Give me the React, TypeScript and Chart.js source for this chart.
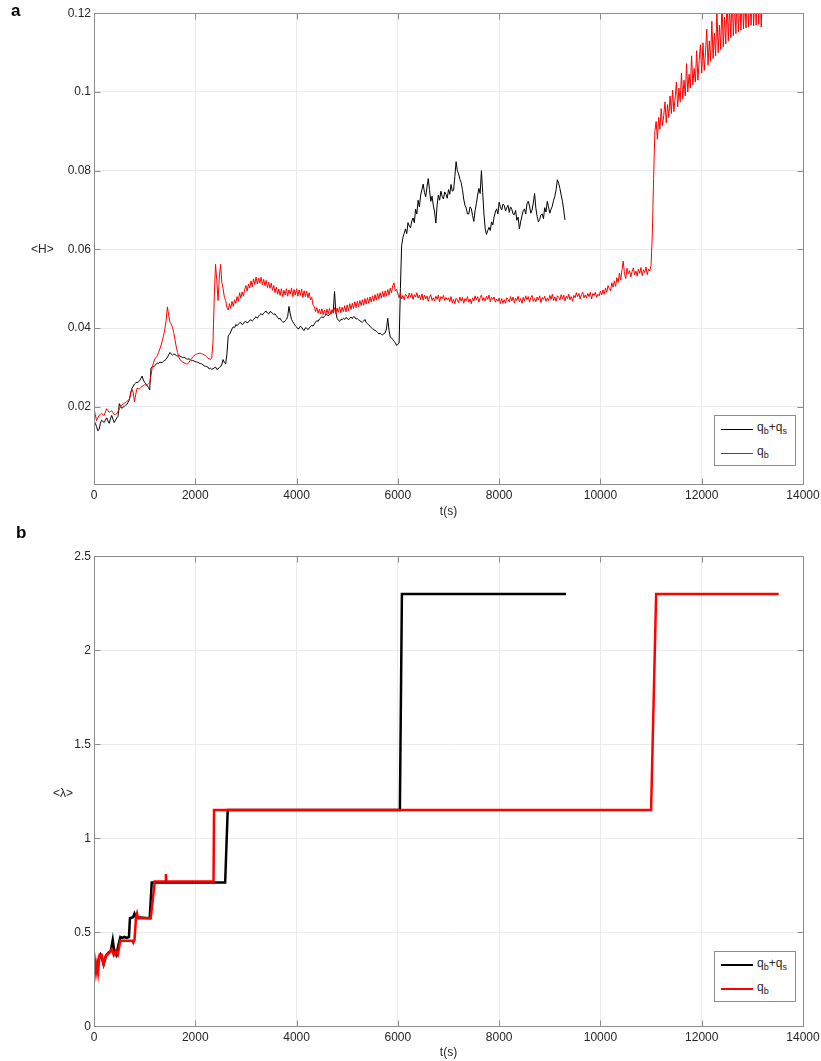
import React, { useEffect, useRef } from 'react';
import { Chart, registerables } from 'chart.js';

Chart.register(...registerables);

// ---------- data ----------
// sampling interval of the <H> records (seconds)
const H_SAMPLE_STEP_S = 25;

// <H> for q_b+q_s, one value every 25 s from t = 0 to 9300 s (one row = 500 s)
const H_TOTAL = [
  0.0165, 0.0158, 0.0150, 0.0139, 0.0142, 0.0158, 0.0166, 0.0163, 0.0160, 0.0166, 0.0172, 0.0164, 0.0158, 0.0169, 0.0178, 0.0168, 0.0160, 0.0166, 0.0172, 0.0176,
  0.0208, 0.0201, 0.0196, 0.0199, 0.0201, 0.0204, 0.0206, 0.0212, 0.0218, 0.0236, 0.0247, 0.0252, 0.0258, 0.0261, 0.0262, 0.0263, 0.0266, 0.0272, 0.0278, 0.0268,
  0.0262, 0.0258, 0.0254, 0.0249, 0.0243, 0.0298, 0.0302, 0.0301, 0.0305, 0.0308, 0.0311, 0.0310, 0.0314, 0.0312, 0.0313, 0.0316, 0.0318, 0.0321, 0.0326, 0.0332,
  0.0338, 0.0334, 0.0331, 0.0334, 0.0333, 0.0330, 0.0329, 0.0331, 0.0328, 0.0327, 0.0325, 0.0326, 0.0324, 0.0322, 0.0321, 0.0322, 0.0320, 0.0317, 0.0318, 0.0316,
  0.0315, 0.0314, 0.0313, 0.0311, 0.0310, 0.0309, 0.0307, 0.0304, 0.0303, 0.0302, 0.0301, 0.0296, 0.0298, 0.0295, 0.0297, 0.0299, 0.0301, 0.0295, 0.0296, 0.0300,
  0.0302, 0.0308, 0.0320, 0.0312, 0.0309, 0.0335, 0.0380, 0.0384, 0.0390, 0.0398, 0.0403, 0.0401, 0.0409, 0.0406, 0.0410, 0.0413, 0.0414, 0.0409, 0.0411, 0.0416,
  0.0417, 0.0413, 0.0415, 0.0420, 0.0421, 0.0418, 0.0421, 0.0426, 0.0429, 0.0425, 0.0430, 0.0434, 0.0437, 0.0433, 0.0438, 0.0441, 0.0443, 0.0438, 0.0436, 0.0442,
  0.0441, 0.0437, 0.0435, 0.0436, 0.0432, 0.0427, 0.0423, 0.0425, 0.0419, 0.0416, 0.0415, 0.0419, 0.0422, 0.0430, 0.0455, 0.0436, 0.0422, 0.0416, 0.0411, 0.0406,
  0.0403, 0.0398, 0.0399, 0.0405, 0.0402, 0.0396, 0.0394, 0.0401, 0.0400, 0.0396, 0.0400, 0.0404, 0.0407, 0.0405, 0.0410, 0.0415, 0.0419, 0.0417, 0.0423, 0.0426,
  0.0429, 0.0426, 0.0430, 0.0433, 0.0435, 0.0431, 0.0435, 0.0437, 0.0439, 0.0445, 0.0493, 0.0440, 0.0425, 0.0420, 0.0417, 0.0422, 0.0421, 0.0425, 0.0422, 0.0427,
  0.0425, 0.0421, 0.0425, 0.0428, 0.0424, 0.0429, 0.0428, 0.0423, 0.0424, 0.0421, 0.0419, 0.0416, 0.0415, 0.0418, 0.0422, 0.0414, 0.0411, 0.0408, 0.0405, 0.0401,
  0.0398, 0.0396, 0.0394, 0.0392, 0.0389, 0.0385, 0.0387, 0.0384, 0.0383, 0.0386, 0.0388, 0.0398, 0.0425, 0.0395, 0.0377, 0.0375, 0.0371, 0.0366, 0.0363, 0.0356,
  0.0359, 0.0362, 0.0500, 0.0610, 0.0630, 0.0641, 0.0652, 0.0640, 0.0668, 0.0659, 0.0655, 0.0672, 0.0680, 0.0668, 0.0702, 0.0690, 0.0725, 0.0708, 0.0738, 0.0752,
  0.0766, 0.0745, 0.0734, 0.0758, 0.0780, 0.0752, 0.0722, 0.0735, 0.0712, 0.0695, 0.0667, 0.0712, 0.0738, 0.0725, 0.0748, 0.0735, 0.0728, 0.0746, 0.0740, 0.0730,
  0.0752, 0.0740, 0.0765, 0.0748, 0.0750, 0.0785, 0.0823, 0.0800, 0.0792, 0.0778, 0.0770, 0.0752, 0.0728, 0.0712, 0.0705, 0.0690, 0.0690, 0.0708, 0.0704, 0.0686,
  0.0671, 0.0698, 0.0716, 0.0738, 0.0755, 0.0742, 0.0800, 0.0745, 0.0690, 0.0652, 0.0638, 0.0648, 0.0656, 0.0648, 0.0670, 0.0662, 0.0682, 0.0695, 0.0703, 0.0690,
  0.0720, 0.0708, 0.0700, 0.0715, 0.0712, 0.0698, 0.0706, 0.0712, 0.0694, 0.0708, 0.0702, 0.0690, 0.0688, 0.0699, 0.0674, 0.0682, 0.0652, 0.0670, 0.0685, 0.0698,
  0.0703, 0.0690, 0.0716, 0.0722, 0.0710, 0.0692, 0.0700, 0.0718, 0.0742, 0.0705, 0.0684, 0.0670, 0.0676, 0.0688, 0.0690, 0.0678, 0.0706, 0.0695, 0.0722, 0.0708,
  0.0692, 0.0702, 0.0710, 0.0725, 0.0735, 0.0752, 0.0777, 0.0768, 0.0755, 0.0738, 0.0722, 0.0700, 0.0675,
];

// <H> for q_b, one value every 25 s from t = 0 to 13200 s (one row = 500 s)
const H_BED = [
  0.0196, 0.0180, 0.0165, 0.0172, 0.0178, 0.0181, 0.0183, 0.0180, 0.0178, 0.0187, 0.0195, 0.0190, 0.0186, 0.0188, 0.0190, 0.0185, 0.0180, 0.0181, 0.0183, 0.0188,
  0.0195, 0.0200, 0.0205, 0.0207, 0.0209, 0.0211, 0.0214, 0.0217, 0.0220, 0.0233, 0.0245, 0.0235, 0.0213, 0.0232, 0.0247, 0.0246, 0.0246, 0.0249, 0.0252, 0.0254,
  0.0256, 0.0255, 0.0255, 0.0258, 0.0262, 0.0280, 0.0300, 0.0312, 0.0322, 0.0325, 0.0330, 0.0338, 0.0347, 0.0357, 0.0368, 0.0382, 0.0398, 0.0420, 0.0454, 0.0432,
  0.0415, 0.0410, 0.0402, 0.0388, 0.0370, 0.0352, 0.0338, 0.0326, 0.0320, 0.0316, 0.0314, 0.0312, 0.0311, 0.0309, 0.0309, 0.0313, 0.0318, 0.0322, 0.0327, 0.0330,
  0.0332, 0.0334, 0.0335, 0.0336, 0.0336, 0.0335, 0.0334, 0.0332, 0.0330, 0.0327, 0.0324, 0.0322, 0.0320, 0.0325, 0.0365, 0.0480, 0.0562, 0.0520, 0.0470, 0.0530,
  0.0562, 0.0515, 0.0500, 0.0478, 0.0470, 0.0452, 0.0446, 0.0462, 0.0450, 0.0468, 0.0455, 0.0472, 0.0463, 0.0480, 0.0468, 0.0490, 0.0476, 0.0492, 0.0481, 0.0498,
  0.0508, 0.0494, 0.0512, 0.0502, 0.0520, 0.0505, 0.0525, 0.0511, 0.0530, 0.0512, 0.0527, 0.0514, 0.0529, 0.0510, 0.0524, 0.0508, 0.0521, 0.0503, 0.0517, 0.0501,
  0.0514, 0.0496, 0.0508, 0.0490, 0.0504, 0.0486, 0.0499, 0.0483, 0.0500, 0.0480, 0.0496, 0.0484, 0.0500, 0.0481, 0.0497, 0.0486, 0.0502, 0.0480, 0.0498, 0.0484,
  0.0500, 0.0481, 0.0497, 0.0483, 0.0499, 0.0478, 0.0495, 0.0480, 0.0494, 0.0477, 0.0490, 0.0472, 0.0478, 0.0458, 0.0455, 0.0442, 0.0452, 0.0438, 0.0448, 0.0436,
  0.0449, 0.0434, 0.0446, 0.0433, 0.0448, 0.0436, 0.0450, 0.0435, 0.0447, 0.0438, 0.0452, 0.0437, 0.0451, 0.0440, 0.0454, 0.0439, 0.0453, 0.0442, 0.0457, 0.0441,
  0.0459, 0.0444, 0.0462, 0.0447, 0.0463, 0.0450, 0.0467, 0.0452, 0.0468, 0.0454, 0.0470, 0.0457, 0.0472, 0.0458, 0.0475, 0.0461, 0.0477, 0.0463, 0.0479, 0.0466,
  0.0482, 0.0468, 0.0485, 0.0471, 0.0488, 0.0474, 0.0490, 0.0476, 0.0493, 0.0479, 0.0495, 0.0481, 0.0498, 0.0484, 0.0502, 0.0490, 0.0508, 0.0515, 0.0494, 0.0499,
  0.0487, 0.0477, 0.0490, 0.0474, 0.0483, 0.0472, 0.0486, 0.0482, 0.0475, 0.0489, 0.0478, 0.0488, 0.0473, 0.0485, 0.0479, 0.0490, 0.0476, 0.0484, 0.0472, 0.0487,
  0.0471, 0.0484, 0.0474, 0.0482, 0.0468, 0.0479, 0.0485, 0.0470, 0.0477, 0.0469, 0.0481, 0.0473, 0.0484, 0.0467, 0.0480, 0.0475, 0.0483, 0.0470, 0.0478, 0.0472,
  0.0477, 0.0467, 0.0480, 0.0464, 0.0473, 0.0462, 0.0476, 0.0472, 0.0465, 0.0479, 0.0468, 0.0478, 0.0463, 0.0475, 0.0469, 0.0480, 0.0466, 0.0474, 0.0462, 0.0477,
  0.0469, 0.0482, 0.0472, 0.0480, 0.0466, 0.0477, 0.0484, 0.0470, 0.0477, 0.0469, 0.0481, 0.0473, 0.0484, 0.0467, 0.0478, 0.0473, 0.0479, 0.0466, 0.0474, 0.0468,
  0.0476, 0.0462, 0.0475, 0.0463, 0.0472, 0.0463, 0.0477, 0.0473, 0.0466, 0.0480, 0.0469, 0.0479, 0.0464, 0.0476, 0.0470, 0.0481, 0.0467, 0.0475, 0.0463, 0.0478,
  0.0469, 0.0482, 0.0472, 0.0480, 0.0466, 0.0477, 0.0483, 0.0468, 0.0475, 0.0467, 0.0479, 0.0471, 0.0482, 0.0465, 0.0478, 0.0473, 0.0481, 0.0468, 0.0476, 0.0470,
  0.0483, 0.0473, 0.0486, 0.0470, 0.0479, 0.0468, 0.0482, 0.0478, 0.0471, 0.0485, 0.0474, 0.0484, 0.0469, 0.0481, 0.0475, 0.0486, 0.0472, 0.0480, 0.0468, 0.0483,
  0.0477, 0.0490, 0.0480, 0.0488, 0.0474, 0.0485, 0.0491, 0.0477, 0.0484, 0.0476, 0.0488, 0.0480, 0.0491, 0.0474, 0.0488, 0.0483, 0.0491, 0.0478, 0.0486, 0.0482,
  0.0494, 0.0484, 0.0497, 0.0486, 0.0502, 0.0491, 0.0508, 0.0500, 0.0495, 0.0515, 0.0504, 0.0520, 0.0506, 0.0528, 0.0516, 0.0540, 0.0522, 0.0548, 0.0570, 0.0538,
  0.0526, 0.0552, 0.0538, 0.0546, 0.0530, 0.0544, 0.0553, 0.0535, 0.0545, 0.0532, 0.0550, 0.0539, 0.0554, 0.0533, 0.0548, 0.0541, 0.0555, 0.0536, 0.0550, 0.0545,
  0.0560, 0.0640, 0.0780, 0.0900, 0.0925, 0.0880, 0.0935, 0.0905, 0.0958, 0.0915, 0.0940, 0.0975, 0.0922, 0.0968, 0.0935, 0.0990, 0.0945, 0.1005, 0.0950, 0.0985,
  0.1025, 0.0962, 0.1010, 0.0975, 0.1048, 0.0982, 0.1030, 0.0990, 0.1072, 0.1000, 0.1045, 0.1010, 0.1092, 0.1018, 0.1060, 0.1025, 0.1105, 0.1030, 0.1080, 0.1120,
  0.1048, 0.1125, 0.1055, 0.1100, 0.1160, 0.1068, 0.1130, 0.1078, 0.1180, 0.1085, 0.1150, 0.1092, 0.1205, 0.1100, 0.1170, 0.1108, 0.1230, 0.1115, 0.1190, 0.1122,
  0.1240, 0.1130, 0.1215, 0.1138, 0.1250, 0.1143, 0.1225, 0.1148, 0.1260, 0.1152, 0.1235, 0.1157, 0.1265, 0.1160, 0.1240, 0.1163, 0.1270, 0.1166, 0.1245, 0.1170,
  0.1275, 0.1168, 0.1250, 0.1170, 0.1280, 0.1172, 0.1255, 0.1165, 0.1260,
];

// <lambda> step records: times (s) and values
const LAMBDA_TOTAL_T = [
  0, 30, 60, 100, 130, 160, 190, 230, 280, 330, 370, 400, 440, 480, 520, 560, 600, 640,
  690, 710, 770, 800, 830, 1100, 1140, 2590, 2640, 6040, 6080, 9320,
];
const LAMBDA_TOTAL_V = [
  0.33, 0.30, 0.33, 0.36, 0.38, 0.36, 0.33, 0.37, 0.39, 0.40, 0.46, 0.40, 0.38, 0.43, 0.475, 0.47, 0.475, 0.47,
  0.475, 0.575, 0.58, 0.60, 0.58, 0.575, 0.765, 0.765, 1.15, 1.15, 2.30, 2.30,
];
const LAMBDA_BED_T = [
  0, 20, 40, 60, 80, 110, 150, 190, 240, 300, 350, 390, 430, 470, 520, 760, 775, 800,
  830, 850, 870, 1120, 1200, 1410, 1420, 1430, 2360, 2370, 11000, 11100, 13520,
];
const LAMBDA_BED_V = [
  0.30, 0.34, 0.29, 0.33, 0.29, 0.38, 0.38, 0.33, 0.38, 0.39, 0.41, 0.38, 0.40, 0.38, 0.455, 0.455, 0.445, 0.46,
  0.58, 0.60, 0.575, 0.575, 0.77, 0.77, 0.81, 0.77, 0.77, 1.15, 1.15, 2.30, 2.30,
];

const T_TICKS = [0, 2000, 4000, 6000, 8000, 10000, 12000, 14000];
const T_TICK_LABELS = ['0', '2000', '4000', '6000', '8000', '10000', '12000', '14000'];
const H_TICKS = [0.02, 0.04, 0.06, 0.08, 0.1, 0.12];
const H_TICK_LABELS = ['0.02', '0.04', '0.06', '0.08', '0.1', '0.12'];
const L_TICKS = [0, 0.5, 1, 1.5, 2, 2.5];
const L_TICK_LABELS = ['0', '0.5', '1', '1.5', '2', '2.5'];

const SERIES_TOTAL = 'q_b+q_s';
const SERIES_BED = 'q_b';

// ---------- styling ----------
const FONT = '"Liberation Sans", Arial, sans-serif';
const TEXT = '#262626';
const FRAME = '#8c8c8c';
const GRID = '#ebebeb';
const RED = '#ff0000';
const BLACK = '#000000';

const framePlugin = {
  id: 'matlabFrame',
  afterDatasetsDraw(chart: any) {
    const { ctx, chartArea: a, scales } = chart;
    const l = Math.round(a.left) + 0.5;
    const r = Math.round(a.right) + 0.5;
    const t = Math.round(a.top) + 0.5;
    const b = Math.round(a.bottom) + 0.5;
    ctx.save();
    ctx.strokeStyle = FRAME;
    ctx.lineWidth = 1;
    ctx.beginPath();
    ctx.rect(l, t, r - l, b - t);
    const len = 6;
    scales.x.ticks.forEach((tk: any) => {
      const x = Math.round(scales.x.getPixelForValue(tk.value)) + 0.5;
      ctx.moveTo(x, b);
      ctx.lineTo(x, b - len);
      ctx.moveTo(x, t);
      ctx.lineTo(x, t + len);
    });
    scales.y.ticks.forEach((tk: any) => {
      const y = Math.round(scales.y.getPixelForValue(tk.value)) + 0.5;
      ctx.moveTo(l, y);
      ctx.lineTo(l + len, y);
      ctx.moveTo(r, y);
      ctx.lineTo(r - len, y);
    });
    ctx.stroke();
    ctx.restore();
  },
};

function sampled(values: number[]) {
  return values.map((v, i) => ({ x: i * H_SAMPLE_STEP_S, y: v }));
}
function paired(ts: number[], vs: number[]) {
  return ts.map((t, i) => ({ x: t, y: vs[i] }));
}

function makeOptions(p: {
  yMin: number;
  yMax: number;
  yTicks: number[];
  yLabels: string[];
  padTop: number;
  xAxisHeight: number;
  titlePadBottom: number;
}) {
  return {
    responsive: false,
    animation: false,
    devicePixelRatio: 1,
    layout: { autoPadding: false, padding: { left: 0, right: 18, top: p.padTop, bottom: 0 } },
    plugins: { legend: { display: false }, tooltip: { enabled: false } },
    elements: { point: { radius: 0 }, line: { tension: 0 } },
    scales: {
      x: {
        type: 'linear',
        min: 0,
        max: 14000,
        afterBuildTicks: (s: any) => {
          s.ticks = T_TICKS.map((v) => ({ value: v }));
        },
        afterFit: (s: any) => {
          s.height = p.xAxisHeight;
          s.paddingLeft = 0;
          s.paddingRight = 0;
        },
        ticks: {
          autoSkip: false,
          maxRotation: 0,
          padding: 4,
          color: TEXT,
          font: { family: FONT, size: 12 },
          callback: (v: number) => T_TICK_LABELS[T_TICKS.indexOf(v)] ?? '',
        },
        grid: { color: GRID, drawTicks: false, lineWidth: 1 },
        border: { display: false },
        title: {
          display: true,
          text: 't(s)',
          color: TEXT,
          font: { family: FONT, size: 12 },
          padding: { top: 0, bottom: p.titlePadBottom },
        },
      },
      y: {
        type: 'linear',
        min: p.yMin,
        max: p.yMax,
        afterBuildTicks: (s: any) => {
          s.ticks = p.yTicks.map((v) => ({ value: v }));
        },
        afterFit: (s: any) => {
          s.width = 94;
          s.paddingTop = 0;
          s.paddingBottom = 0;
        },
        ticks: {
          autoSkip: false,
          padding: 3,
          color: TEXT,
          font: { family: FONT, size: 12 },
          callback: (v: number) => {
            const i = p.yTicks.findIndex((t) => Math.abs(t - v) < 1e-9);
            return i >= 0 ? p.yLabels[i] : '';
          },
        },
        grid: { color: GRID, drawTicks: false, lineWidth: 1 },
        border: { display: false },
      },
    },
  } as any;
}

function Legend({ left, top, lw }: { left: number; top: number; lw: number }) {
  const sub = { fontSize: 9, position: 'relative' as const, top: 3 };
  const txt = {
    position: 'absolute' as const,
    left: 42,
    fontFamily: FONT,
    fontSize: 12,
    color: TEXT,
    lineHeight: '14px',
    whiteSpace: 'nowrap' as const,
  };
  return (
    <div
      style={{
        position: 'absolute',
        left,
        top,
        width: 82,
        height: 51,
        border: `1px solid ${FRAME}`,
        background: '#fff',
        boxSizing: 'border-box',
      }}
    >
      <div style={{ position: 'absolute', left: 6, top: 13 - lw / 2, width: 32, height: lw, background: BLACK }} />
      <div style={{ ...txt, top: 4 }}>
        q<span style={sub}>b</span>+q<span style={sub}>s</span>
      </div>
      <div style={{ position: 'absolute', left: 6, top: 37 - lw / 2, width: 32, height: lw, background: RED }} />
      <div style={{ ...txt, top: 28 }}>
        q<span style={sub}>b</span>
      </div>
    </div>
  );
}

export default function App() {
  const topRef = useRef<HTMLCanvasElement>(null);
  const botRef = useRef<HTMLCanvasElement>(null);

  useEffect(() => {
    const top = new Chart(topRef.current as HTMLCanvasElement, {
      type: 'line',
      data: {
        datasets: [
          {
            label: SERIES_BED,
            data: sampled(H_BED),
            borderColor: RED,
            borderWidth: 1,
            pointRadius: 0,
            order: 0,
            clip: 0,
          },
          {
            label: SERIES_TOTAL,
            data: sampled(H_TOTAL),
            borderColor: BLACK,
            borderWidth: 1,
            pointRadius: 0,
            order: 1,
            clip: 0,
          },
        ],
      },
      options: makeOptions({
        yMin: 0.0003,
        yMax: 0.12,
        yTicks: H_TICKS,
        yLabels: H_TICK_LABELS,
        padTop: 13.3,
        xAxisHeight: 45.7,
        titlePadBottom: 11,
      }),
      plugins: [framePlugin],
    } as any);

    const bot = new Chart(botRef.current as HTMLCanvasElement, {
      type: 'line',
      data: {
        datasets: [
          {
            label: SERIES_BED,
            data: paired(LAMBDA_BED_T, LAMBDA_BED_V),
            borderColor: RED,
            borderWidth: 2.5,
            pointRadius: 0,
            order: 0,
            clip: 0,
          },
          {
            label: SERIES_TOTAL,
            data: paired(LAMBDA_TOTAL_T, LAMBDA_TOTAL_V),
            borderColor: BLACK,
            borderWidth: 2.5,
            pointRadius: 0,
            order: 1,
            clip: 0,
          },
        ],
      },
      options: makeOptions({
        yMin: 0,
        yMax: 2.5,
        yTicks: L_TICKS,
        yLabels: L_TICK_LABELS,
        padTop: 26.3,
        xAxisHeight: 34.7,
        titlePadBottom: 1,
      }),
      plugins: [framePlugin],
    } as any);

    return () => {
      top.destroy();
      bot.destroy();
    };
  }, []);

  const label = {
    position: 'absolute' as const,
    fontFamily: FONT,
    fontSize: 12,
    color: TEXT,
    lineHeight: '14px',
    whiteSpace: 'nowrap' as const,
  };
  const panel = {
    position: 'absolute' as const,
    fontFamily: FONT,
    fontSize: 17,
    fontWeight: 700,
    color: '#000',
    lineHeight: '20px',
  };

  return (
    <div style={{ position: 'absolute', left: 0, top: 0, width: 821, height: 1061, background: '#fff', overflow: 'hidden' }}>
      <canvas ref={topRef} width={821} height={530} style={{ position: 'absolute', left: 0, top: 0, width: 821, height: 530 }} />
      <canvas ref={botRef} width={821} height={531} style={{ position: 'absolute', left: 0, top: 530, width: 821, height: 531 }} />
      <div style={{ ...panel, left: 11, top: 1 }}>a</div>
      <div style={{ ...panel, left: 16, top: 523 }}>b</div>
      <div style={{ ...label, left: 31, top: 242 }}>&lt;H&gt;</div>
      <div style={{ ...label, left: 53, top: 786 }}>&lt;λ&gt;</div>
      <Legend left={714} top={415} lw={1} />
      <Legend left={714} top={951} lw={2.5} />
    </div>
  );
}
